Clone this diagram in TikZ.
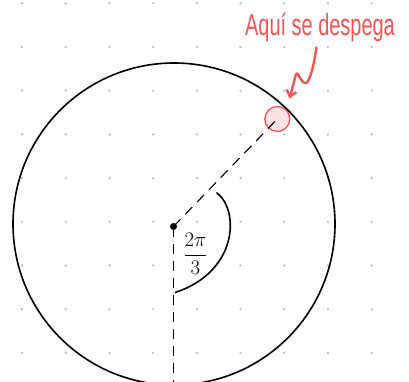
\documentclass[tikz,border=0pt]{standalone}
\usepackage{fontspec}
\usepackage{amsmath}
\newfontfamily\handfont{Liberation Sans}
\usetikzlibrary{arrows.meta}
\definecolor{redink}{HTML}{F45454}
\definecolor{pinkfill}{HTML}{FFE3E3}
\definecolor{griddot}{HTML}{BDBDBD}
\tikzset{
  ink/.style={line width=1.6pt, black},
  dashline/.style={line width=1.1pt, black, dash pattern=on 10pt off 7pt},
  gdot/.style={fill=griddot, draw=none},
  redline/.style={line width=2.4pt, redink, line cap=round, line join=round},
  anglabel/.style={font=\fontsize{21}{24}\selectfont},
}
\begin{document}
\begin{tikzpicture}[x=1pt,y=-1pt]
\useasboundingbox (0,0) rectangle (409,382);
% grid dots
\foreach \i in {0,...,8}{
  \foreach \j in {0,...,8}{
    \fill[gdot] (22+43.7*\i, 3.3+43.7*\j) circle (1.3);
  }
}
% big circle
\node[draw, ink, circle, minimum size=322pt, inner sep=0pt] (C) at (174,224) {};
% centre dot
\node[circle, fill=black, inner sep=0pt, minimum size=7pt] (o) at (173.5,226.5) {};
% detaching point
\node[circle, draw=redink, fill=pinkfill, line width=1.3pt, minimum size=25pt, inner sep=0pt] (p) at (277.3,119) {};
\coordinate (b) at (173.5,382);
% dashed radii
\draw[dashline] (o.center) -- (p.center);
\draw[dashline] (o.center) -- (b);
% angle arc
\draw[ink] (216.5,192.5) .. controls (240,210) and (238,272) .. (175,292.5);
\node[anglabel] (ang) at (195.5,254) {$\dfrac{2\pi}{3}$};
% annotation
\node[text=redink, font=\handfont\fontsize{19}{22}\selectfont, inner sep=0pt] (t) at (320,27) {\scalebox{1.05}[1.6]{Aquí se despega}};
\coordinate (a1) at (316.5,47.5);
\draw[redline, -{Straight Barb[length=6pt, width=10pt]}] (a1) .. controls (313,70) and (309,84) .. (305,83)
  .. controls (300,82) and (298,70) .. (296,74) -- (289.5,98.5);
\end{tikzpicture}
\end{document}
